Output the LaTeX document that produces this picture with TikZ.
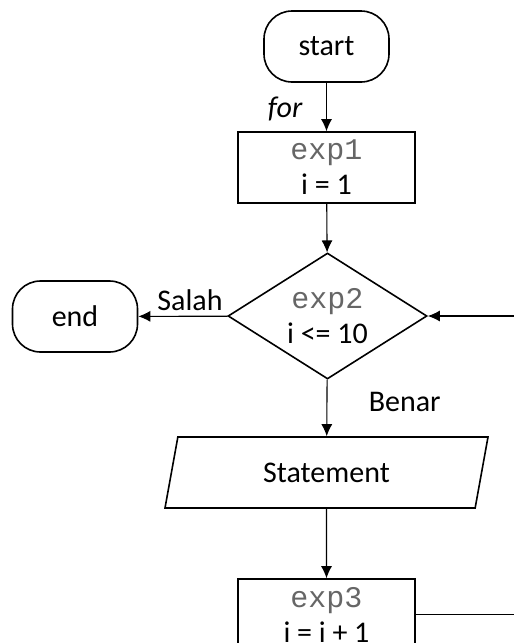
\documentclass[tikz,border=0pt]{standalone}
\usepackage{fontspec}
\setmainfont{Carlito}
\setmonofont{Liberation Mono}
\usetikzlibrary{shapes.geometric,arrows.meta}
\newcommand{\exptext}[1]{{\ttfamily\color{black!60}#1}}

\begin{document}
\begin{tikzpicture}[x=1pt,y=-1pt,>={Latex[length=12pt,width=11pt]},
	font=\fontsize{30}{35}\selectfont,
	box/.style={draw,line width=1.6pt,minimum width=177pt,minimum height=71pt,inner sep=0pt,align=center},
	term/.style={draw,line width=1.6pt,rounded corners=28pt,minimum width=125pt,minimum height=71pt},
	cond/.style={draw,diamond,line width=1.6pt,aspect=1.58,minimum width=199pt,minimum height=126pt,inner sep=0pt,align=center},
	io/.style={draw,trapezium,trapezium left angle=64,trapezium right angle=116,trapezium stretches body,line width=1.6pt,minimum width=323pt,minimum height=71pt},
	flow/.style={->,line width=1.1pt}]
	\useasboundingbox (0,0) rectangle (514,643);
	\clip (0,0) rectangle (514,643);
	% nodes
	\node[term] (start) at (326.5,46.5) {start};
	\node[box] (exp1) at (326.5,167.5) {\exptext{exp1}\\ i = 1};
	\node[cond] (exp2) at (327.5,316) {\exptext{exp2}\\ i <= 10};
	\node[term] (end) at (75,316.5) {end};
	\node[io] (stmt) at (326.5,472.5) {Statement};
	\node[box] (exp3) at (326.5,614.5) {\exptext{exp3}\\ i = i + 1};
	% connectors
	\draw[flow] (start) -- node[left=20pt,pos=0.55]{\textit{for}} (exp1);
	\draw[flow] (exp1) -- (exp2);
	\draw[flow] (exp2) -- node[above=2pt,pos=0.42]{Salah} (end);
	\draw[flow] (exp2) -- node[right=38pt,pos=0.4]{Benar} (stmt);
	\draw[flow] (stmt) -- (exp3);
	\draw[flow] (exp3.east) -- ++(130,0) |- (exp2.east);
\end{tikzpicture}
\end{document}
